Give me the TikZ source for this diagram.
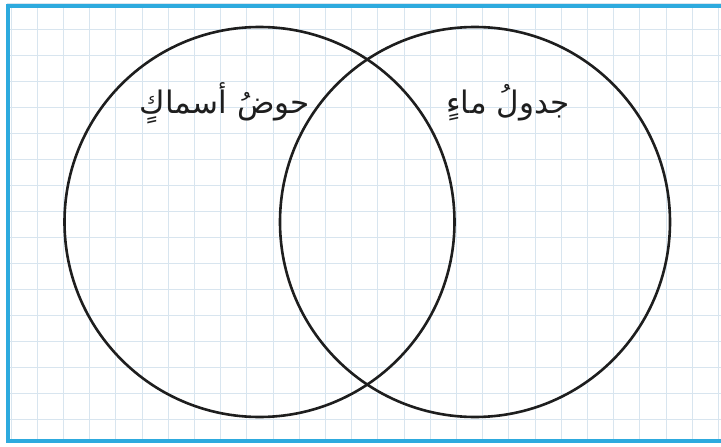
\documentclass[tikz,border=0pt]{standalone}
\usepackage{fontspec}
\newfontfamily\arabicfont[Script=Arabic]{DejaVu Sans}
\TeXXeTstate=1
\definecolor{gridc}{RGB}{216,229,239}
\definecolor{framec}{RGB}{45,170,222}
\definecolor{inkc}{RGB}{30,30,30}
\tikzset{
  gridline/.style={gridc, line width=1pt},
  framebox/.style={framec, line width=4pt},
  venn/.style={circle, draw=inkc, line width=2.6pt, minimum size=390pt, inner sep=0pt},
  label/.style={font=\arabicfont\fontsize{31}{36}\selectfont, inner sep=0pt, text=inkc}
}
\begin{document}
\begin{tikzpicture}[x=1pt,y=-1pt]
\useasboundingbox (0,0) rectangle (721,447);
\fill[white] (0,0) rectangle (721,447);
\foreach \i in {0,...,27} \draw[gridline] ({11+26.2*\i},4) -- ({11+26.2*\i},440);
\foreach \j in {0,...,16} \draw[gridline] (7,{3.5+26*\j}) -- (721,{3.5+26*\j});
\draw[framebox] (721,5.5) -- (7.5,5.5) -- (7.5,440.5) -- (721,440.5);
\node[venn] (left) at (259.5,222) {};
\node[venn] (right) at (475,222) {};
\node[label] (t1) at (225,103) {\beginR حوضُ أسماكٍ\endR};
\node[label] (t2) at (508,103) {\beginR جدولُ ماءٍ\endR};
\end{tikzpicture}
\end{document}
